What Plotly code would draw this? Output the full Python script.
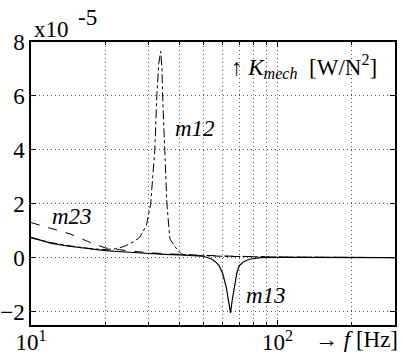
import plotly.graph_objects as go

# frequency [Hz] and K_mech values [x1e-5 W/N^2]
f_m13 = [10, 11, 12, 14, 16, 20, 25, 30, 35, 40, 45, 50, 54, 56, 58, 60, 62, 63.5, 64.5, 65.5, 67, 68.5, 70, 73, 77, 85, 100, 150, 200, 300]
k_m13 = [0.75, 0.63, 0.54, 0.43, 0.36, 0.26, 0.2, 0.15, 0.12, 0.1, 0.08, 0.05, -0.05, -0.15, -0.3, -0.6, -1.1, -1.7, -2.05, -1.6, -1.0, -0.55, -0.3, -0.15, -0.06, 0.0, 0.01, 0.01, 0.0, 0.0]

f_m12 = [10, 12, 15, 18, 20, 22, 24, 26, 27.6, 29.4, 30.6, 31.2, 31.8, 32.4, 33.0, 33.6, 34.0, 34.2, 34.9, 35.6, 36.6, 38, 39.4, 41, 45, 60, 100, 200, 300]
k_m12 = [0.73, 0.56, 0.41, 0.32, 0.3, 0.33, 0.42, 0.58, 0.75, 1.2, 2.0, 3.0, 4.0, 6.0, 7.2, 7.65, 7.0, 6.0, 4.0, 2.0, 0.7, 0.45, 0.26, 0.12, 0.08, 0.05, 0.02, 0.01, 0.0]

f_m23 = [10, 12, 14.4, 17, 20, 25, 30, 40, 60, 100, 300]
k_m23 = [1.3, 1.1, 0.88, 0.6, 0.36, 0.25, 0.18, 0.12, 0.06, 0.02, 0.0]

x_tickvals = [10, 100]
x_ticktext = ["10<sup>1</sup>", "10<sup>2</sup>"]
x_minor = [20, 30, 40, 50, 60, 70, 80, 90, 200]
y_tickvals = [-2, 0, 2, 4, 6, 8]

FONT = "Liberation Serif"
FS = 23
GRID = "#555555"
GDASH = "1px,3px"

fig = go.Figure()
fig.add_trace(go.Scatter(x=f_m12, y=k_m12, mode="lines", line=dict(color="black", width=1, dash="dashdot"), name="m12"))
fig.add_trace(go.Scatter(x=f_m23, y=k_m23, mode="lines", line=dict(color="black", width=1, dash="dash"), name="m23"))
fig.add_trace(go.Scatter(x=f_m13, y=k_m13, mode="lines", line=dict(color="black", width=1.2), name="m13"))

ann = dict(font=dict(family=FONT, size=FS, color="black"), showarrow=False, xref="paper", yref="paper")
fig.add_annotation(text="x10", x=0.003, y=1.045, xanchor="left", yanchor="middle", **ann)
fig.add_annotation(text="-5", x=0.124, y=1.085, xanchor="left", yanchor="middle", **ann)
fig.add_annotation(text="↑ <i>K</i><sub><i>mech</i></sub>  [W/N<sup>2</sup>]", x=0.545, y=0.915, xanchor="left", yanchor="middle", **ann)
fig.add_annotation(text="<i>m12</i>", x=0.451, y=0.696, xanchor="center", yanchor="middle", **ann)
fig.add_annotation(text="<i>m23</i>", x=0.113, y=0.382, xanchor="center", yanchor="middle", **ann)
fig.add_annotation(text="<i>m13</i>", x=0.646, y=0.106, xanchor="center", yanchor="middle", **ann)
fig.add_annotation(text="→ <i>f</i> [Hz]", x=0.775, y=-0.05, xanchor="left", yanchor="middle", **ann)

fig.update_layout(
    width=403, height=360,
    margin=dict(l=31, r=8, t=42, b=35),
    paper_bgcolor="white", plot_bgcolor="white",
    showlegend=False,
    font=dict(family=FONT, size=FS, color="black"),
)
fig.update_xaxes(
    type="log", range=[1, 2.4771], automargin=False,
    tickvals=x_tickvals, ticktext=x_ticktext,
    showline=True, linecolor="black", linewidth=1.5, mirror="ticks",
    ticks="inside", ticklen=5, tickcolor="black", ticklabelstandoff=-4,
    showgrid=True, gridcolor=GRID, griddash=GDASH, gridwidth=1,
    minor=dict(tickvals=x_minor, showgrid=True, gridcolor=GRID, griddash=GDASH, ticks="inside", ticklen=3, tickcolor="black"),
    zeroline=False,
)
fig.update_yaxes(
    range=[-2.5, 8], tickvals=y_tickvals, automargin=False,
    showline=True, linecolor="black", linewidth=1.5, mirror="ticks",
    ticks="inside", ticklen=5, tickcolor="black",
    showgrid=True, gridcolor=GRID, griddash=GDASH, gridwidth=1,
    zeroline=False,
)

fig.write_html("out.html", config={"displayModeBar": False}, post_script="document.body.style.margin='0';")
